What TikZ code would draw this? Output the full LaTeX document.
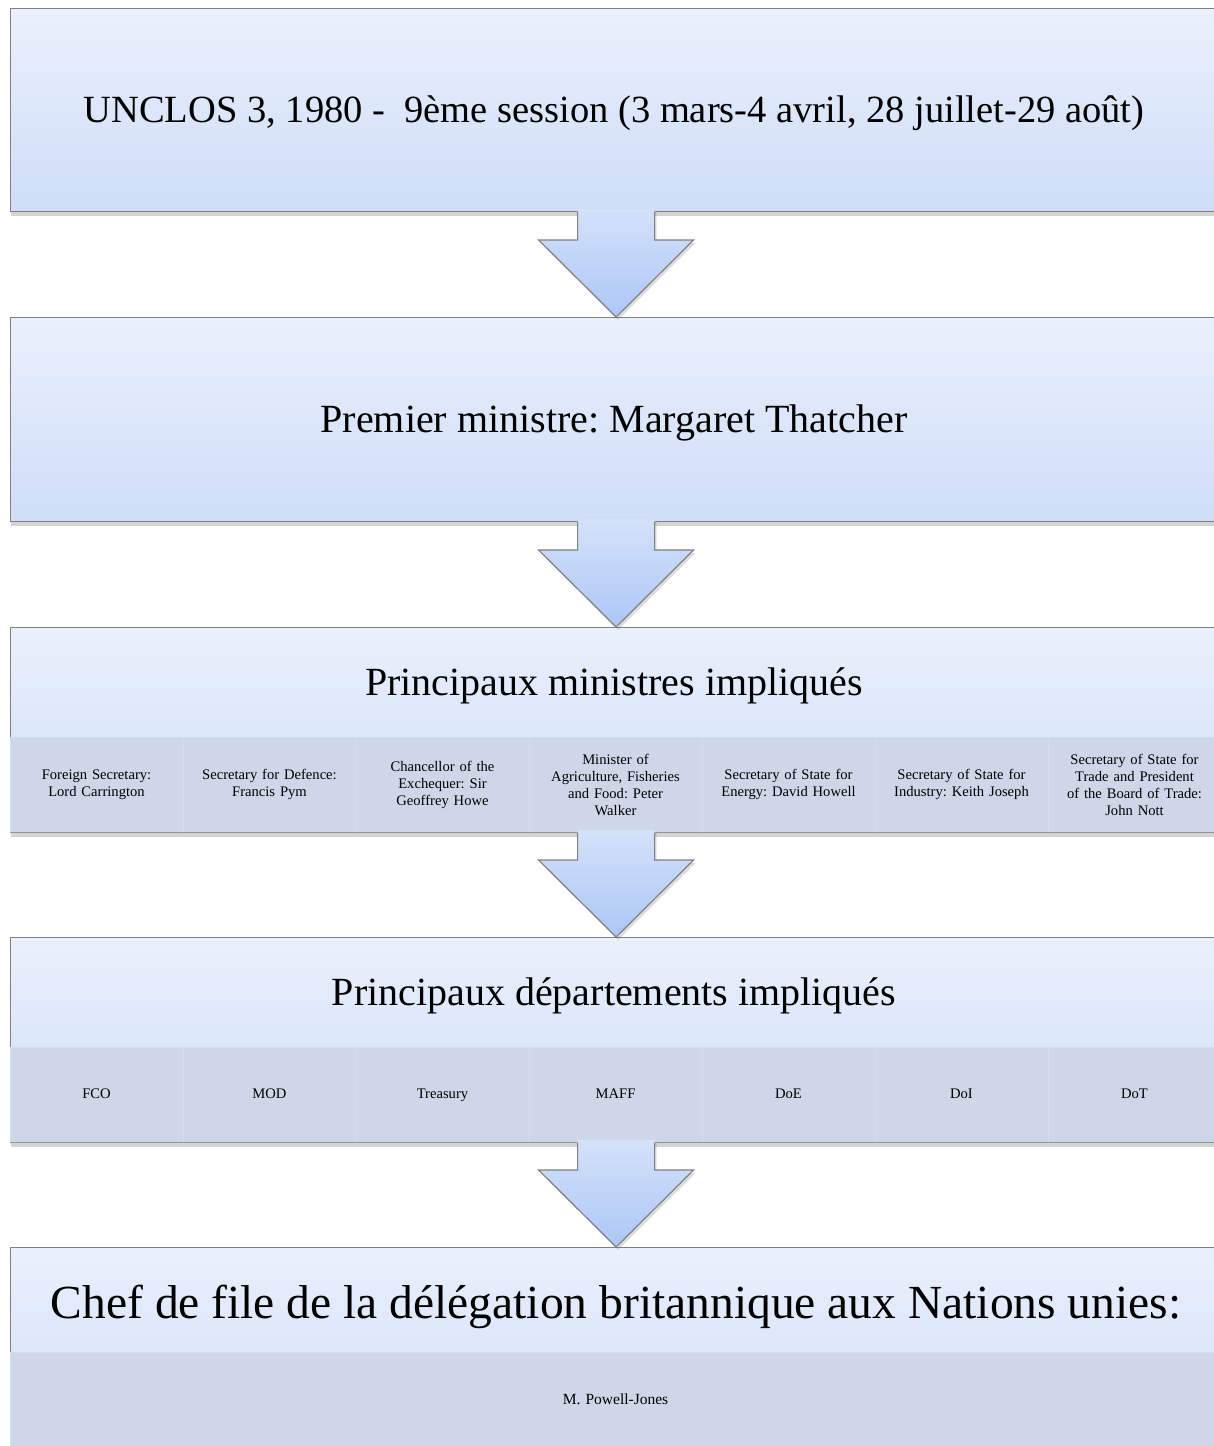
\documentclass[tikz,border=0pt]{standalone}
\usepackage{fontspec}
\setmainfont{Liberation Serif}
\usetikzlibrary{calc,shadows}
\frenchspacing
\definecolor{boxtop}{RGB}{234,240,252}
\definecolor{boxbot}{RGB}{207,221,248}
\definecolor{bandcol}{RGB}{206,214,232}
\definecolor{arrtop}{RGB}{212,225,250}
\definecolor{arrbot}{RGB}{172,199,246}
\definecolor{edgecol}{RGB}{128,128,128}
\tikzset{
  flowbox/.style={draw=edgecol, line width=1.2pt, top color=boxtop, bottom color=boxbot,
    anchor=north west, minimum width=1211pt, inner sep=0pt,
    drop shadow={shadow xshift=0pt, shadow yshift=-4pt, opacity=0.28, fill=black!60}},
  bandcell/.style={fill=bandcol, draw=white, draw opacity=0.15, line width=0.4pt,
    minimum width=173pt, minimum height=95pt, inner sep=0pt, text width=160pt,
    align=center, font=\fontsize{14.6}{17}\selectfont},
  deptcell/.style={bandcell, text height=10.5pt, text depth=3.5pt},
  headtxt/.style={font=\fontsize{40}{48}\selectfont, inner sep=0pt, anchor=base},
  arrowfill/.style={top color=arrtop, bottom color=arrbot,
    drop shadow={shadow xshift=2pt, shadow yshift=-3pt, opacity=0.22, fill=black!60}},
  arrowedge/.style={draw=edgecol, line width=1.2pt, line join=miter}
}
\newcommand\blockarrow[2]{%
  \shade[arrowfill] ($(#1.south)+(-38.5,-3)$) -- ($(#2.north)+(-38.5,-77)$)
    -- ($(#2.north)+(-77.5,-77)$) -- (#2.north) -- ($(#2.north)+(77.5,-77)$)
    -- ($(#2.north)+(38.5,-77)$) -- ($(#1.south)+(38.5,-3)$) -- cycle;
  \draw[arrowedge] ($(#1.south)+(-38.5,0)$) -- ($(#2.north)+(-38.5,-77)$)
    -- ($(#2.north)+(-77.5,-77)$) -- (#2.north) -- ($(#2.north)+(77.5,-77)$)
    -- ($(#2.north)+(38.5,-77)$) -- ($(#1.south)+(38.5,0)$);
}
\begin{document}
\begin{tikzpicture}[x=1pt, y=-1pt]
\useasboundingbox (0,0) rectangle (1214,1446);
\clip (0,0) rectangle (1214,1446);

% Box 1
\node[flowbox, minimum height=203pt] (b1) at (10,8) {};
\node[headtxt, font=\fontsize{38.5}{46}\selectfont] (t1) at (614,122)
  {UNCLOS 3, 1980 -\ \ 9ème session (3 mars-4 avril, 28 juillet-29 août)};

% Box 2
\node[flowbox, minimum height=204pt] (b2) at (10,317) {};
\node[headtxt] (t2) at (614,432) {Premier ministre: Margaret Thatcher};

% Box 3
\node[flowbox, minimum height=205pt] (b3) at (10,627) {};
\node[headtxt] (t3) at (614,695) {Principaux ministres impliqués};
\node[bandcell] (m1) at ($(10,784.5)+(86.5,0)$) {Foreign Secretary:\\Lord Carrington};
\node[bandcell] (m2) at ($(10,784.5)+(259.5,0)$) {Secretary for Defence:\\Francis Pym};
\node[bandcell] (m3) at ($(10,784.5)+(432.5,0)$) {Chancellor of the\\Exchequer: Sir\\Geoffrey Howe};
\node[bandcell] (m4) at ($(10,784.5)+(605.5,0)$) {Minister of\\Agriculture, Fisheries\\and Food: Peter\\Walker};
\node[bandcell] (m5) at ($(10,784.5)+(778.5,0)$) {Secretary of State for\\Energy: David Howell};
\node[bandcell] (m6) at ($(10,784.5)+(951.5,0)$) {Secretary of State for\\Industry: Keith Joseph};
\node[bandcell] (m7) at ($(10,784.5)+(1124.5,0)$) {Secretary of State for\\Trade and President\\of the Board of Trade:\\John Nott};

% Box 4
\node[flowbox, minimum height=205pt] (b4) at (10,937) {};
\node[headtxt] (t4) at (614,1005) {Principaux départements impliqués};
\node[deptcell] (d1) at ($(10,1094.5)+(86.5,0)$) {FCO};
\node[deptcell] (d2) at ($(10,1094.5)+(259.5,0)$) {MOD};
\node[deptcell] (d3) at ($(10,1094.5)+(432.5,0)$) {Treasury};
\node[deptcell] (d4) at ($(10,1094.5)+(605.5,0)$) {MAFF};
\node[deptcell] (d5) at ($(10,1094.5)+(778.5,0)$) {DoE};
\node[deptcell] (d6) at ($(10,1094.5)+(951.5,0)$) {DoI};
\node[deptcell] (d7) at ($(10,1094.5)+(1124.5,0)$) {DoT};

% Box 5
\node[flowbox, minimum height=205pt] (b5) at (10,1247) {};
\node[headtxt, font=\fontsize{47.5}{56}\selectfont] (t5) at (616,1318)
  {Chef de file de la délégation britannique aux Nations unies:};
\node[deptcell, minimum width=1211pt, minimum height=98pt, text width=600pt, font=\fontsize{15.5}{18}\selectfont]
  (p1) at (615.5,1401) {M. Powell-Jones};

% Arrows
\blockarrow{b1}{b2}
\blockarrow{b2}{b3}
\blockarrow{b3}{b4}
\blockarrow{b4}{b5}
\end{tikzpicture}
\end{document}
